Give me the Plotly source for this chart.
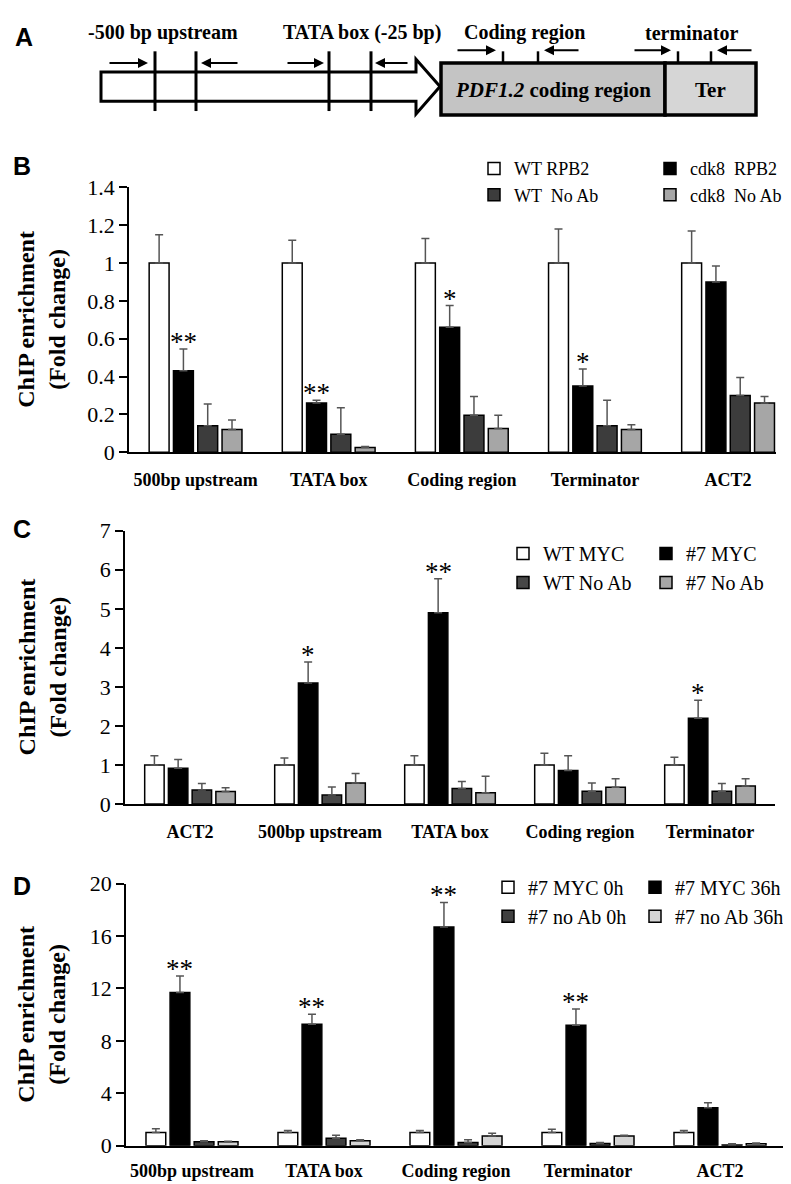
import plotly.graph_objects as go

OFF = 0
FW, FH = 791 - OFF, 1184 - OFF
def px(x): return (x - OFF) / FW
def py(y): return 1 - (y - OFF) / FH

SERIF = "Liberation Serif, Times New Roman, serif"
SANS = "Liberation Sans, Arial, sans-serif"

# ---------------- Panel B data ----------------
b_categories = ["500bp upstream", "TATA box", "Coding region", "Terminator", "ACT2"]
b_names = ["WT RPB2", "cdk8  RPB2", "WT  No Ab", "cdk8  No Ab"]
b_wt_rpb2 = [1.0, 1.0, 1.0, 1.0, 1.0]
b_wt_rpb2_err = [0.15, 0.12, 0.13, 0.18, 0.17]
b_cdk8_rpb2 = [0.43, 0.26, 0.66, 0.35, 0.90]
b_cdk8_rpb2_err = [0.115, 0.015, 0.115, 0.09, 0.085]
b_wt_noab = [0.14, 0.095, 0.195, 0.14, 0.30]
b_wt_noab_err = [0.115, 0.14, 0.10, 0.135, 0.095]
b_cdk8_noab = [0.12, 0.025, 0.125, 0.12, 0.26]
b_cdk8_noab_err = [0.05, 0.005, 0.07, 0.025, 0.035]
b_sig = ["**", "**", "*", "*", ""]
b_ticks = [0, 0.2, 0.4, 0.6, 0.8, 1.0, 1.2, 1.4]
b_ticktext = ["0", "0.2", "0.4", "0.6", "0.8", "1", "1.2", "1.4"]

# ---------------- Panel C data ----------------
c_categories = ["ACT2", "500bp upstream", "TATA box", "Coding region", "Terminator"]
c_names = ["WT MYC", "#7 MYC", "WT No Ab", "#7 No Ab"]
c_wt_myc = [1.0, 1.0, 1.0, 1.0, 1.0]
c_wt_myc_err = [0.24, 0.18, 0.24, 0.30, 0.20]
c_l7_myc = [0.92, 3.1, 4.9, 0.86, 2.2]
c_l7_myc_err = [0.22, 0.54, 0.87, 0.38, 0.46]
c_wt_noab = [0.36, 0.23, 0.40, 0.33, 0.33]
c_wt_noab_err = [0.17, 0.21, 0.18, 0.21, 0.20]
c_l7_noab = [0.32, 0.54, 0.29, 0.43, 0.46]
c_l7_noab_err = [0.10, 0.24, 0.42, 0.22, 0.19]
c_sig = ["", "*", "**", "", "*"]
c_ticks = [0, 1, 2, 3, 4, 5, 6, 7]

# ---------------- Panel D data ----------------
d_categories = ["500bp upstream", "TATA box", "Coding region", "Terminator", "ACT2"]
d_names = ["#7 MYC 0h", "#7 MYC 36h", "#7 no Ab 0h", "#7 no Ab 36h"]
d_myc_0h = [1.0, 1.0, 1.0, 1.0, 1.0]
d_myc_0h_err = [0.30, 0.17, 0.17, 0.25, 0.17]
d_myc_36h = [11.7, 9.27, 16.7, 9.2, 2.9]
d_myc_36h_err = [1.25, 0.77, 1.87, 1.24, 0.38]
d_noab_0h = [0.30, 0.57, 0.25, 0.17, 0.05]
d_noab_0h_err = [0.07, 0.23, 0.20, 0.08, 0.10]
d_noab_36h = [0.30, 0.37, 0.75, 0.75, 0.15]
d_noab_36h_err = [0.05, 0.08, 0.20, 0.05, 0.05]
d_sig = ["**", "**", "**", "**", ""]
d_ticks = [0, 4, 8, 12, 16, 20]

BARGAP = 0.27
BARGROUPGAP = 0.18

panels = [
    dict(cats=b_categories, names=b_names,
         vals=[b_wt_rpb2, b_cdk8_rpb2, b_wt_noab, b_cdk8_noab],
         errs=[b_wt_rpb2_err, b_cdk8_rpb2_err, b_wt_noab_err, b_cdk8_noab_err],
         colors=["#ffffff", "#000000", "#3c3c3c", "#a6a6a6"],
         legends=["legend", "legend2", "legend", "legend2"],
         xa="x", ya="y", sig=b_sig),
    dict(cats=c_categories, names=c_names,
         vals=[c_wt_myc, c_l7_myc, c_wt_noab, c_l7_noab],
         errs=[c_wt_myc_err, c_l7_myc_err, c_wt_noab_err, c_l7_noab_err],
         colors=["#ffffff", "#000000", "#474747", "#a6a6a6"],
         legends=["legend3", "legend4", "legend3", "legend4"],
         xa="x2", ya="y2", sig=c_sig),
    dict(cats=d_categories, names=d_names,
         vals=[d_myc_0h, d_myc_36h, d_noab_0h, d_noab_36h],
         errs=[d_myc_0h_err, d_myc_36h_err, d_noab_0h_err, d_noab_36h_err],
         colors=["#ffffff", "#000000", "#404040", "#d4d4d4"],
         legends=["legend5", "legend6", "legend5", "legend6"],
         xa="x3", ya="y3", sig=d_sig),
]

fig = go.Figure()
annotations = []
black_offset = -(1 - BARGAP) / 8.0

for p in panels:
    for name, v, e, col, lg in zip(p["names"], p["vals"], p["errs"], p["colors"], p["legends"]):
        fig.add_trace(go.Bar(
            x=p["cats"], y=v, name=name,
            marker=dict(color=col, line=dict(color="black", width=1.5)),
            error_y=dict(type="data", symmetric=False, array=e, arrayminus=[0] * len(e),
                         color="#555555", thickness=1.5, width=4),
            xaxis=p["xa"], yaxis=p["ya"], legend=lg,
        ))
    black_vals, black_errs = p["vals"][1], p["errs"][1]
    for i, s in enumerate(p["sig"]):
        if s:
            annotations.append(dict(
                x=i + black_offset, y=black_vals[i] + black_errs[i],
                xref=p["xa"], yref=p["ya"], text=s, showarrow=False,
                yanchor="bottom", yshift=-10,
                font=dict(family=SERIF, size=27, color="black")))

axis_common = dict(showgrid=False, zeroline=False, showline=True, linecolor="black",
                   linewidth=1.5)
ytick_font = dict(family=SERIF, size=22, color="black")
xtick_font = dict(family=SERIF, size=18, color="black", weight="bold")

layout = dict(
    width=FW, height=FH, autosize=False,
    margin=dict(l=0, r=0, t=0, b=0),
    paper_bgcolor="white", plot_bgcolor="rgba(0,0,0,0)",
    barmode="group", bargap=BARGAP, bargroupgap=BARGROUPGAP,
    xaxis=dict(domain=[px(121), px(768)], range=[-0.5, 4.36], anchor="y", type="category",
               ticks="", tickfont=xtick_font, ticklabelstandoff=10, **axis_common),
    yaxis=dict(domain=[py(441.5), py(171)], range=[0, 1.4], anchor="x",
               tickvals=b_ticks, ticktext=b_ticktext, ticks="outside", ticklen=8,
               tickwidth=1.5, tickcolor="black", tickfont=ytick_font, **axis_common),
    xaxis2=dict(domain=[px(117), px(767)], range=[-0.5, 4.5], anchor="y2", type="category",
                ticks="", tickfont=xtick_font, ticklabelstandoff=11, **axis_common),
    yaxis2=dict(domain=[py(801), py(521.7)], range=[0, 7], anchor="x2",
                tickvals=c_ticks, ticks="outside", ticklen=8, tickwidth=1.5,
                tickcolor="black", tickfont=ytick_font, **axis_common),
    xaxis3=dict(domain=[px(118), px(778)], range=[-0.5, 4.5], anchor="y3", type="category",
                ticks="", tickfont=xtick_font, ticklabelstandoff=8, **axis_common),
    yaxis3=dict(domain=[py(1150), py(882.3)], range=[0, 20], anchor="x3",
                tickvals=d_ticks, ticks="outside", ticklen=8, tickwidth=1.5,
                tickcolor="black", tickfont=ytick_font, **axis_common),
    showlegend=True,
)

def legend_cfg(left, top, size):
    return dict(x=px(left), y=py(top), xanchor="left", yanchor="top", orientation="v",
                bgcolor="rgba(0,0,0,0)", borderwidth=0, tracegroupgap=0,
                font=dict(family=SERIF, size=size, color="black"), itemwidth=30)

layout["legend"] = legend_cfg(466, 133, 18)
layout["legend2"] = legend_cfg(642, 133, 18)
layout["legend3"] = legend_cfg(495, 525, 20)
layout["legend4"] = legend_cfg(638, 525, 20)
layout["legend5"] = legend_cfg(480, 866, 20)
layout["legend6"] = legend_cfg(627, 866, 20)

# y-axis titles
for yc in [(171 + 441.5) / 2, (521.7 + 801) / 2, (882.3 + 1150) / 2]:
    annotations.append(dict(x=px(34), y=py(yc), xref="paper", yref="paper",
                            text="ChIP enrichment<br>(Fold change)", textangle=-90,
                            showarrow=False, xanchor="center", yanchor="middle",
                            font=dict(family=SERIF, size=24, color="black", weight="bold")))

# panel letters
for letter, (lx, ly) in zip("ABCD", [(16, 17), (14, 149), (14, 520), (14, 885)]):
    annotations.append(dict(x=px(lx), y=py(ly), xref="paper", yref="paper", text=letter,
                            showarrow=False, xanchor="center", yanchor="middle",
                            font=dict(family=SANS, size=25, color="black", weight="bold")))

# ---------------- Panel A schematic ----------------
shapes = []
def P(x, y): return f"{px(x):.5f},{py(y):.5f}"
arrow_path = ("M" + P(93, 53) + " L" + P(408, 53) + " L" + P(408, 40) + " L" + P(432, 68) +
              " L" + P(408, 96) + " L" + P(408, 83) + " L" + P(93, 83) + " Z")
shapes.append(dict(type="path", path=arrow_path, xref="paper", yref="paper",
                   line=dict(color="black", width=3), fillcolor="white"))
for vx in [147, 188, 321, 363]:
    shapes.append(dict(type="line", xref="paper", yref="paper", x0=px(vx), x1=px(vx),
                       y0=py(32), y1=py(93), line=dict(color="black", width=3)))
for vx in [495, 530, 670, 703]:
    shapes.append(dict(type="line", xref="paper", yref="paper", x0=px(vx), x1=px(vx),
                       y0=py(32), y1=py(44), line=dict(color="black", width=2.5)))
shapes.append(dict(type="rect", xref="paper", yref="paper", x0=px(433), x1=px(657),
                   y0=py(97), y1=py(44), line=dict(color="black", width=3.5), fillcolor="#c4c4c4"))
shapes.append(dict(type="rect", xref="paper", yref="paper", x0=px(657), x1=px(748),
                   y0=py(97), y1=py(44), line=dict(color="black", width=3.5), fillcolor="#d6d6d6"))

def small_arrow(x_tip, y, dx):
    annotations.append(dict(x=px(x_tip), y=py(y), xref="paper", yref="paper", text="",
                            showarrow=True, ax=dx, ay=0, arrowhead=2, arrowsize=1,
                            arrowwidth=2, arrowcolor="black"))

small_arrow(140, 44, -40)
small_arrow(193, 44, 38)
small_arrow(316, 44, -38)
small_arrow(367, 44, 34)
small_arrow(488, 31, -40)
small_arrow(536, 31, 36)
small_arrow(663, 31, -38)
small_arrow(709, 31, 36)

for txt, cx in [("-500 bp upstream", 155), ("TATA box (-25 bp)", 354),
                ("Coding region", 516), ("terminator", 683)]:
    annotations.append(dict(x=px(cx), y=py(13), xref="paper", yref="paper", text=txt,
                            showarrow=False, xanchor="center", yanchor="middle",
                            font=dict(family=SERIF, size=20, color="black", weight="bold")))
annotations.append(dict(x=px(545), y=py(71), xref="paper", yref="paper",
                        text="<i>PDF1.2</i> coding region", showarrow=False,
                        xanchor="center", yanchor="middle",
                        font=dict(family=SERIF, size=21, color="black", weight="bold")))
annotations.append(dict(x=px(702), y=py(71), xref="paper", yref="paper", text="Ter",
                        showarrow=False, xanchor="center", yanchor="middle",
                        font=dict(family=SERIF, size=21, color="black", weight="bold")))

layout["annotations"] = annotations
layout["shapes"] = shapes
fig.update_layout(**layout)
fig.write_html("out.html")
